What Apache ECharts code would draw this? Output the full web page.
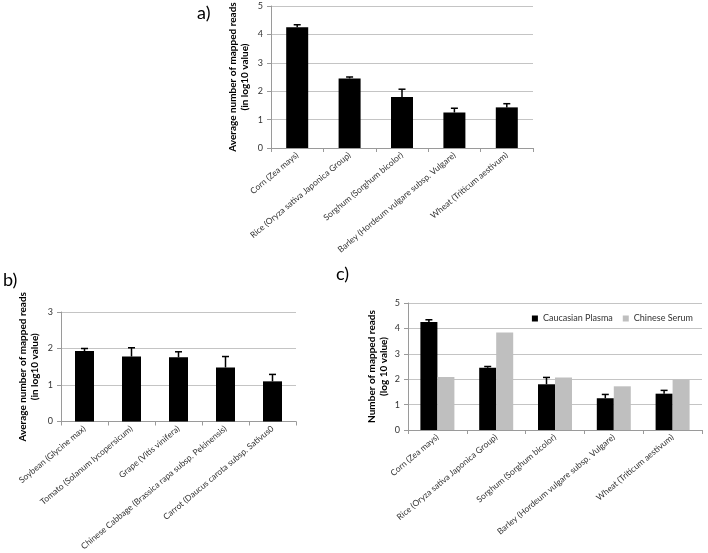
<!DOCTYPE html>
<html><head><meta charset="utf-8">
<script src="https://cdn.jsdelivr.net/npm/echarts@6/dist/echarts.min.js"></script>
<style>html,body{margin:0;padding:0;background:#fff}#c{width:708px;height:553px}</style>
</head><body><div id="c"></div>
<script>
const cerealCategories = ['Corn (Zea mays)', 'Rice (Oryza sativa Japonica Group)', 'Sorghum (Sorghum bicolor)', 'Barley (Hordeum vulgare subsp. Vulgare)', 'Wheat (Triticum aestivum)'];
const vegCategories = ['Soybean (Glycine max)', 'Tomato (Solanum lycopersicum)', 'Grape (Vitis vinifera)', 'Chinese Cabbage (Brassica rapa subsp. Pekinensis)', 'Carrot (Daucus carota subsp. Sativus0'];
const cerealMeans = [4.25, 2.45, 1.80, 1.25, 1.43];
const cerealErrors = [0.09, 0.05, 0.27, 0.15, 0.13];
const vegMeans = [1.93, 1.78, 1.76, 1.48, 1.10];
const vegErrors = [0.07, 0.24, 0.15, 0.30, 0.19];
const chineseSerum = [2.09, 3.84, 2.07, 1.72, 1.98];
const panelLabels = ['a)', 'b)', 'c)'];

const FONT = 'Lato';
const TXT = '#333333';
const AX = '#9a9a9a';
const GRID = '#c4c4c4';

function errData(means, errs) { return means.map((m, i) => [i, m, errs[i]]); }
function errRender(offsetPx) {
  return function (params, api) {
    const x = api.value(0), v = api.value(1), e = api.value(2);
    const b = api.coord([x, v]);
    const t = api.coord([x, v + e]);
    const cx = b[0] + offsetPx;
    return { type: 'group', children: [
      { type: 'line', shape: { x1: cx, y1: b[1], x2: cx, y2: t[1] }, style: { stroke: '#000', lineWidth: 1.5 } },
      { type: 'line', shape: { x1: cx - 3.5, y1: t[1], x2: cx + 3.5, y2: t[1] }, style: { stroke: '#000', lineWidth: 1.5 } }
    ] };
  };
}
function xAxis(idx, cats) {
  return { type: 'category', gridIndex: idx, data: cats,
    axisLine: { lineStyle: { color: AX } },
    axisTick: { show: true, length: 4, lineStyle: { color: AX } },
    axisLabel: { interval: 0, rotate: 40, fontSize: 8.5, color: TXT, fontFamily: FONT, margin: 6 } };
}
function yAxis(idx, max, name, gap) {
  return { type: 'value', gridIndex: idx, min: 0, max: max, interval: 1,
    name: name, nameLocation: 'middle', nameRotate: 90, nameGap: gap,
    nameTextStyle: { fontSize: 10, fontWeight: 'bold', color: '#000', fontFamily: FONT, lineHeight: 12, align: 'center' },
    axisLine: { show: true, lineStyle: { color: AX } },
    axisTick: { show: true, length: 4, lineStyle: { color: AX } },
    axisLabel: { fontSize: 9, color: TXT, fontFamily: FONT, margin: 8 },
    splitLine: { lineStyle: { color: GRID } } };
}

const chart = echarts.init(document.getElementById('c'));
chart.setOption({
  animation: false,
  backgroundColor: '#fff',
  textStyle: { fontFamily: FONT },
  grid: [
    { left: 271, right: 175, top: 6, bottom: 405 },
    { left: 61, right: 412, top: 312, bottom: 123 },
    { left: 408, right: 6, top: 303, bottom: 123 }
  ],
  xAxis: [xAxis(0, cerealCategories), xAxis(1, vegCategories), xAxis(2, cerealCategories)],
  yAxis: [
    yAxis(0, 5, 'Average number of mapped reads\n(in log10 value)', 20),
    yAxis(1, 3, 'Average number of mapped reads\n(in log10 value)', 20),
    yAxis(2, 5, 'Number of mapped reads\n(log 10 value)', 18)
  ],
  legend: { data: ['Caucasian Plasma', 'Chinese Serum'], orient: 'horizontal', right: 10, top: 309, icon: 'rect',
    itemWidth: 6, itemHeight: 6, itemGap: 10, textStyle: { fontSize: 9, color: TXT, fontFamily: FONT } },
  graphic: [
    { type: 'text', left: 197, top: 4, style: { text: panelLabels[0], fontSize: 18, fontFamily: FONT, fill: '#000' } },
    { type: 'text', left: 3, top: 271, style: { text: panelLabels[1], fontSize: 18, fontFamily: FONT, fill: '#000' } },
    { type: 'text', left: 336, top: 265, style: { text: panelLabels[2], fontSize: 18, fontFamily: FONT, fill: '#000' } }
  ],
  series: [
    { name: 'a', type: 'bar', xAxisIndex: 0, yAxisIndex: 0, data: cerealMeans, barWidth: 22, itemStyle: { color: '#000' } },
    { name: 'aErr', type: 'custom', xAxisIndex: 0, yAxisIndex: 0, data: errData(cerealMeans, cerealErrors), renderItem: errRender(0), z: 5 },
    { name: 'b', type: 'bar', xAxisIndex: 1, yAxisIndex: 1, data: vegMeans, barWidth: 19, itemStyle: { color: '#000' } },
    { name: 'bErr', type: 'custom', xAxisIndex: 1, yAxisIndex: 1, data: errData(vegMeans, vegErrors), renderItem: errRender(0), z: 5 },
    { name: 'Caucasian Plasma', type: 'bar', xAxisIndex: 2, yAxisIndex: 2, data: cerealMeans, barWidth: 17, barGap: '0%', itemStyle: { color: '#000' } },
    { name: 'Chinese Serum', type: 'bar', xAxisIndex: 2, yAxisIndex: 2, data: chineseSerum, barWidth: 17, barGap: '0%', itemStyle: { color: '#bfbfbf' } },
    { name: 'cErr', type: 'custom', xAxisIndex: 2, yAxisIndex: 2, data: errData(cerealMeans, cerealErrors), renderItem: errRender(-8.5), z: 5 }
  ]
});
</script></body></html>
